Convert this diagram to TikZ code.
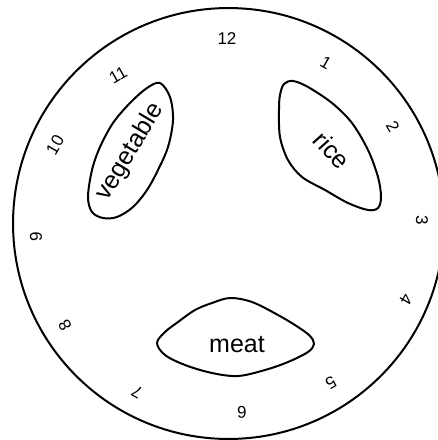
\documentclass[tikz,border=0pt]{standalone}
\usepackage{fontspec}
\setmainfont{Liberation Sans}
\usetikzlibrary{positioning}

\begin{document}
\begin{tikzpicture}[x=0.75pt, y=-0.75pt, line width=1.5pt,
    hour/.style={font=\fontsize{12.75}{14}\selectfont, inner sep=0pt},
    food/.style={font=\fontsize{18.75}{20}\selectfont, inner sep=0pt}]
    \useasboundingbox (0,0) rectangle (437,440);
    % plate
    \draw (228.5,223.5) circle [radius=161.6pt];
    \foreach \k/\x/\y in {12/227/39, 1/326/63, 2/393/127, 3/422/220, 4/406/300, 5/331/383,
                          6/242/412, 7/137/392, 8/65/325, 9/36/237, 10/55/145, 11/118/75}
        \node[hour, rotate={-30*\k}] (h\k) at (\x,\y) {\k};
    % food
    \draw plot[smooth cycle, tension=0.55] coordinates {(160,83) (170,97) (173,120) (168,147) (158,170)
        (147,190) (133,207) (117,217) (103,218) (92,212) (88,197) (92,170) (100,147) (113,123) (130,103) (147,88)};
    \node[food, rotate=59] (veg) at (130,152) {vegetable};
    \draw plot[smooth cycle, tension=0.55] coordinates {(293,81) (308,87) (332,103) (352,123) (368,150)
        (378,177) (381,197) (378,208) (368,210) (348,203) (325,190) (302,177) (288,160) (280,137) (279,110) (280,95) (284,84)};
    \node[food, rotate=-48] (rice) at (332,150) {rice};
    \draw plot[smooth cycle, tension=0.55] coordinates {(157,343) (165,332) (178,322) (195,310) (212,303)
        (230,298) (252,302) (278,315) (298,327) (310,336) (314,344) (308,352) (288,362) (265,370) (238,376)
        (212,373) (185,365) (165,355)};
    \node[food] (meat) at (237,345) {meat};
\end{tikzpicture}
\end{document}
